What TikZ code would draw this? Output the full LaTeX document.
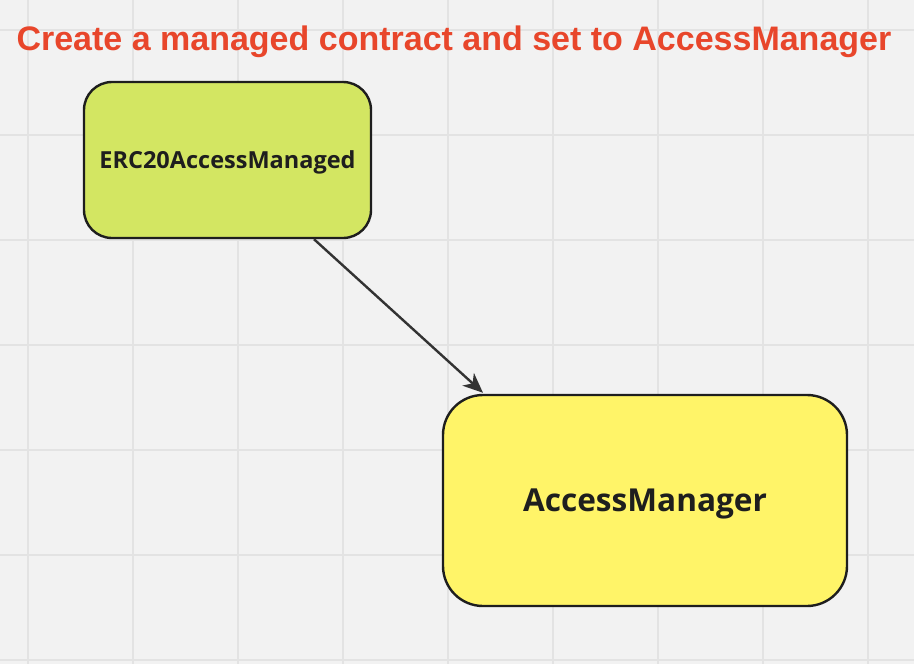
\documentclass[tikz,border=0pt]{standalone}
\usepackage{fontspec}
\setmainfont{Open Sans}
\newfontfamily\titlefont{Liberation Sans}
\usetikzlibrary{arrows.meta,calc}
\definecolor{bgc}{HTML}{F2F2F2}
\definecolor{gridc}{HTML}{E3E3E3}
\definecolor{titlec}{HTML}{E8462B}
\definecolor{limec}{HTML}{D3E662}
\definecolor{yellowc}{HTML}{FFF468}
\definecolor{edgec}{HTML}{1E1E1E}
\definecolor{arrowc}{HTML}{333333}
\tikzset{
  box/.style={draw=edgec, line width=2.4pt, align=center, inner sep=0pt, text=edgec},
  conn/.style={draw=arrowc, line width=2.4pt, -{Stealth[length=20pt,width=17pt,inset=6pt]}},
}
\begin{document}
\begin{tikzpicture}[x=1pt,y=-1pt]
\useasboundingbox (0,0) rectangle (914,664);
\fill[bgc] (0,0) rectangle (914,664);
\foreach \gx in {28,133,...,868} \draw[gridc, line width=2pt] (\gx,0) -- (\gx,664);
\foreach \gy in {30,135,...,660} \draw[gridc, line width=2pt] (0,\gy) -- (914,\gy);
\node[text=titlec, font=\titlefont\bfseries\fontsize{34}{40}\selectfont, anchor=base] (title) at (454,50) {Create a managed contract and set to AccessManager};
\node[box, fill=limec, minimum width=287pt, minimum height=156pt, rounded corners=28pt, font=\bfseries\fontsize{23.5}{28}\selectfont, text depth=-2pt] (erc) at (227.5,160) {ERC20AccessManaged};
\node[box, fill=yellowc, minimum width=404pt, minimum height=211pt, rounded corners=40pt, font=\bfseries\fontsize{31.6}{36}\selectfont, text depth=-4pt] (am) at (645,500.5) {AccessManager};
\draw[conn] ([xshift=86.5pt]erc.south) -- ([xshift=-162pt,yshift=1pt]am.north);
\end{tikzpicture}
\end{document}
